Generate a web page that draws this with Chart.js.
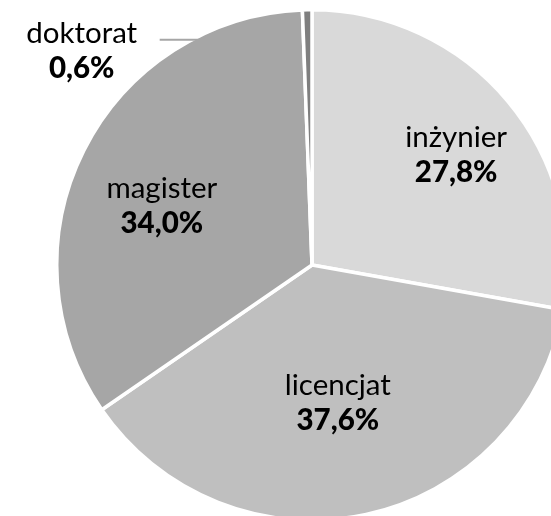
<!DOCTYPE html>
<html>
<head>
<meta charset="utf-8">
<script src="https://cdn.jsdelivr.net/npm/chart.js@4/dist/chart.umd.min.js"></script>
<style>
  html, body { margin: 0; padding: 0; background: #fff; overflow: hidden; width: 551px; height: 516px; }
  #wrap { position: absolute; left: 0; top: 0; width: 624px; height: 530px; }
</style>
</head>
<body>
<div id="wrap"><canvas id="c"></canvas></div>
<script>
const categories = ["inżynier", "licencjat", "magister", "doktorat"];
const shares = [27.8, 37.6, 34.0, 0.6];
const valueLabels = ["27,8%", "37,6%", "34,0%", "0,6%"];
const sliceColors = ["#d9d9d9", "#bfbfbf", "#a6a6a6", "#7f7f7f"];

// label placement: angular shift from slice middle (deg) and radius fraction
const labelShift = [5, 2.3, -8.5, -47.3];
const labelRadius = [0.689, 0.587, 0.619, 1.207];

const labelPlugin = {
  id: 'sliceLabels',
  afterDatasetsDraw(chart) {
    const ctx = chart.ctx;
    const meta = chart.getDatasetMeta(0);
    ctx.save();
    meta.data.forEach((arc, i) => {
      const mid = (arc.startAngle + arc.endAngle) / 2 + labelShift[i] * Math.PI / 180;
      const r = arc.outerRadius * labelRadius[i];
      const x = arc.x + Math.cos(mid) * r;
      const y = arc.y + Math.sin(mid) * r;
      if (labelRadius[i] > 1) {
        ctx.strokeStyle = "#a6a6a6";
        ctx.lineWidth = 2;
        ctx.beginPath();
        ctx.moveTo(x + 78, y - 20.5);
        ctx.lineTo(x + 160, y - 20.5);
        ctx.stroke();
      }
      ctx.fillStyle = "#000";
      ctx.textAlign = "center";
      ctx.textBaseline = "alphabetic";
      ctx.font = "29.5px Lato";
      ctx.fillText(categories[i], x, y - 17.5);
      ctx.font = "900 29.5px Lato";
      ctx.fillText(valueLabels[i], x, y + 17.5);
    });
    ctx.restore();
  }
};

new Chart(document.getElementById('c'), {
  type: 'pie',
  data: {
    labels: categories,
    datasets: [{
      data: shares,
      backgroundColor: sliceColors,
      borderColor: "#ffffff",
      borderWidth: 3.5,
      hoverOffset: 0
    }]
  },
  options: {
    responsive: true,
    maintainAspectRatio: false,
    animation: false,
    layout: { padding: { top: 8, bottom: 8, left: 10, right: 10 } },
    plugins: { legend: { display: false }, tooltip: { enabled: false } },
    events: []
  },
  plugins: [labelPlugin]
});
</script>
</body>
</html>
